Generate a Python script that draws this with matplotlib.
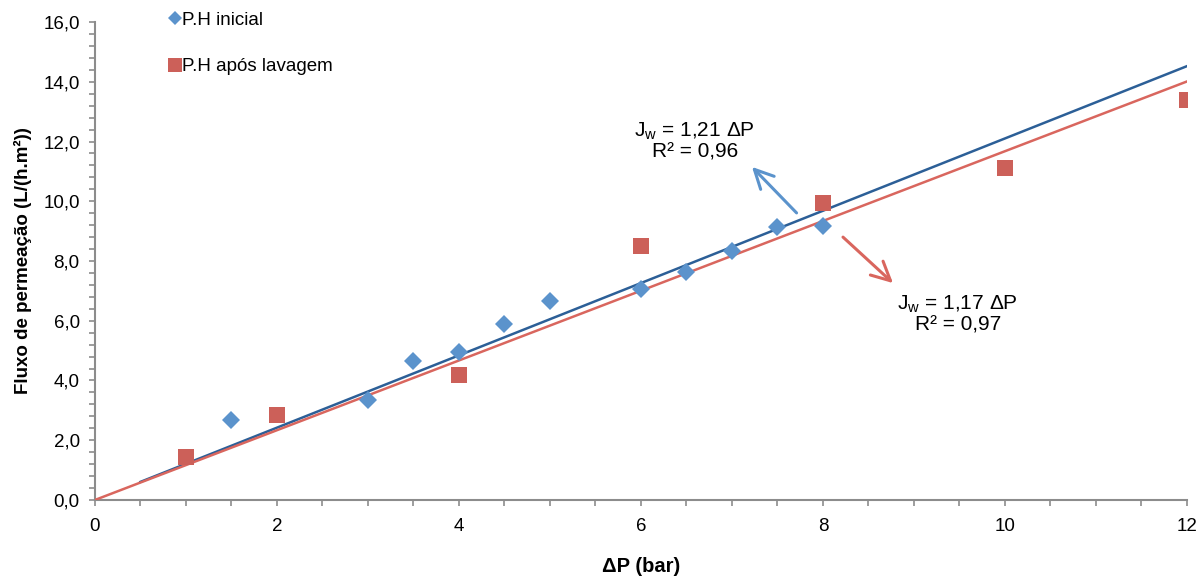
import numpy as np
import matplotlib
matplotlib.use('Agg')
import matplotlib.pyplot as plt
from matplotlib.ticker import MultipleLocator, FuncFormatter

plt.rcParams['font.family'] = ['Liberation Sans', 'DejaVu Sans']
plt.rcParams['font.size'] = 13.5

# dados
dp_inicial = [1.5, 3, 3.5, 4, 4.5, 5, 6, 6.5, 7, 7.5, 8]
j_inicial = [2.68, 3.35, 4.65, 4.95, 5.89, 6.66, 7.06, 7.63, 8.33, 9.14, 9.17]

dp_lavagem = [1, 2, 4, 6, 8, 10, 12]
j_lavagem = [1.44, 2.85, 4.18, 8.50, 9.94, 11.11, 13.39]

azul_ponto = '#5b93cc'
azul_linha = '#2c5f97'
verm_ponto = '#cc6059'
verm_linha = '#d9665e'
cinza = '#8c8c8c'


def slope_origem(x, y):
    # regressão linear pela origem (como a linha de tendência do Excel)
    x = np.asarray(x)
    y = np.asarray(y)
    return (x * y).sum() / (x * x).sum()


a_ini = slope_origem(dp_inicial, j_inicial)
a_lav = slope_origem(dp_lavagem, j_lavagem)

fig = plt.figure(figsize=(12.02, 5.8), dpi=100)
ax = fig.add_axes([0.079, 0.138, 0.9085, 0.824])

# linhas de tendência
xt = np.array([min(dp_inicial) - 1, 12])
ax.plot(xt, a_ini * xt, color=azul_linha, lw=1.8, zorder=3)
xt2 = np.array([min(dp_lavagem) - 1, 12])
ax.plot(xt2, a_lav * xt2, color=verm_linha, lw=1.8, zorder=3)

ax.plot(dp_inicial, j_inicial, 'D', color=azul_ponto, ms=9, mew=0,
        label='P.H inicial', zorder=4)
ax.plot(dp_lavagem, j_lavagem, 's', color=verm_ponto, ms=12, mew=0,
        label='P.H após lavagem', zorder=4)

ax.set_xlim(0, 12)
ax.set_ylim(0, 16)
ax.xaxis.set_major_locator(MultipleLocator(2))
ax.xaxis.set_minor_locator(MultipleLocator(0.5))
ax.yaxis.set_major_locator(MultipleLocator(2))
ax.yaxis.set_minor_locator(MultipleLocator(0.4))
ax.yaxis.set_major_formatter(FuncFormatter(lambda v, p: f'{v:.1f}'.replace('.', ',')))

for s in ['top', 'right']:
    ax.spines[s].set_visible(False)
for s in ['left', 'bottom']:
    ax.spines[s].set_color(cinza)
    ax.spines[s].set_linewidth(1.5)
ax.tick_params(which='both', direction='out', color=cinza, width=1.2, labelsize=13.5, length=4)
ax.tick_params(axis='y', pad=7)
ax.tick_params(axis='x', pad=9)

ax.set_xlabel('ΔP (bar)', fontweight='bold', fontsize=14.5, labelpad=16)
ax.set_ylabel('Fluxo de permeação (L/(h.m²))', fontweight='bold', fontsize=13.5, labelpad=8)

# equações das retas
ax.text(6.59, 12.02, f'J$_\\mathregular{{w}}$ = {a_ini:.2f} ΔP\nR² = 0,96'.replace('.', ','),
        ha='center', va='center', fontsize=15, linespacing=1.05)
ax.text(9.48, 6.23, f'J$_\\mathregular{{w}}$ = {a_lav:.2f} ΔP\nR² = 0,97'.replace('.', ','),
        ha='center', va='center', fontsize=15, linespacing=1.05)
seta = '->,head_length=1.0,head_width=0.5'
ax.annotate('', xy=(7.22, 11.15), xytext=(7.71, 9.61),
            arrowprops=dict(arrowstyle=seta, color=azul_ponto, lw=2.2,
                            shrinkA=0, shrinkB=0))
ax.annotate('', xy=(8.77, 7.26), xytext=(8.22, 8.80),
            arrowprops=dict(arrowstyle=seta, color=verm_linha, lw=2.2,
                            shrinkA=0, shrinkB=0))

ax.legend(loc='upper left', bbox_to_anchor=(0.062, 1.037), frameon=False,
          handlelength=0.5, handletextpad=0.15, labelspacing=1.55,
          fontsize=13.5, borderaxespad=0, markerscale=0.8)

fig.savefig('out.png', dpi=100)
